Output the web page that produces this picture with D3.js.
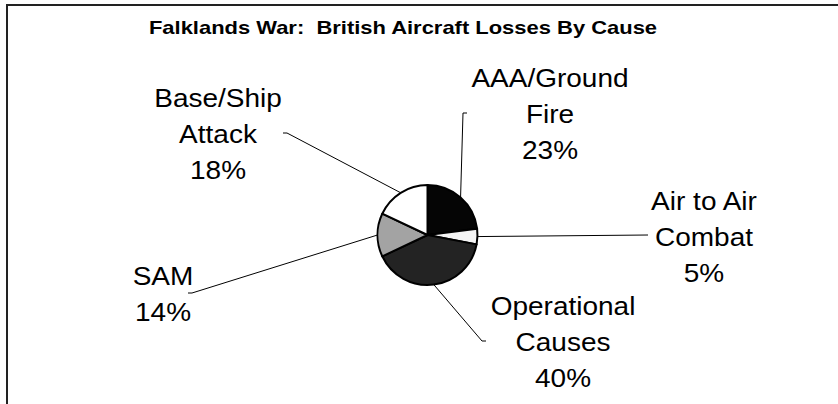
<!DOCTYPE html>
<html>
<head>
<meta charset="utf-8">
<script src="https://cdn.jsdelivr.net/npm/d3@7"></script>
<style>
  body { margin: 0; background: #fff; }
  text { font-family: "Liberation Sans", Arial, sans-serif; fill: #000; }
</style>
</head>
<body>
<svg id="chart" width="838" height="404"></svg>
<script>
// data
const causes = ["AAA/Ground Fire", "Air to Air Combat", "Operational Causes", "SAM", "Base/Ship Attack"];
const labelLines = [["AAA/Ground", "Fire"], ["Air to Air", "Combat"], ["Operational", "Causes"], ["SAM"], ["Base/Ship", "Attack"]];
const percents = [23, 5, 40, 14, 18];
const fills = ["#050505", "#f4f4f4", "#232323", "#a3a3a3", "#ffffff"];

// label placement: text centre x, first baseline y, leader line end + tick direction
const labelLayout = [
  { x: 550, y: 87, lx: 463, ly: 113, tick: 4 },
  { x: 704, y: 210, lx: 648, ly: 235, tick: 0 },
  { x: 563, y: 315, lx: 482, ly: 341, tick: 4 },
  { x: 163, y: 285, lx: 192, ly: 293, tick: -4 },
  { x: 218, y: 107, lx: 287, ly: 133, tick: -4 }
];

const svg = d3.select("#chart");
const W = 838, H = 404;
const cx = 427.5, cy = 235, R = 50;
const lineH = 36;
// the original text is a little wider than it is tall
const labelStretch = 1.12, titleStretch = 1.22;

// frame (top and left edges only)
svg.append("path")
  .attr("d", "M7," + H + " L7,5 L" + W + ",5")
  .attr("fill", "none")
  .attr("stroke", "#222")
  .attr("stroke-width", 2);

// title
svg.append("text")
  .attr("transform", "translate(403,34) scale(" + titleStretch + ",1)")
  .attr("text-anchor", "middle")
  .style("font-weight", "bold")
  .style("font-size", "18px")
  .style("white-space", "pre")
  .text("Falklands War:  British Aircraft Losses By Cause");

const pie = d3.pie().sort(null).value(d => d);
const arcs = pie(percents);
const arc = d3.arc().innerRadius(0).outerRadius(R);

const g = svg.append("g").attr("transform", "translate(" + cx + "," + cy + ")");

g.selectAll("path.slice")
  .data(arcs)
  .enter().append("path")
  .attr("class", "slice")
  .attr("d", arc)
  .attr("fill", (d, i) => fills[i])
  .attr("stroke", "#000")
  .attr("stroke-width", 2)
  .attr("stroke-linejoin", "round");

// leader lines
arcs.forEach((d, i) => {
  const mid = (d.startAngle + d.endAngle) / 2;
  const sx = cx + R * Math.sin(mid);
  const sy = cy - R * Math.cos(mid);
  const L = labelLayout[i];
  let p = "M" + sx + "," + sy + " L" + L.lx + "," + L.ly;
  if (L.tick !== 0) p += " L" + (L.lx + L.tick) + "," + L.ly;
  svg.append("path")
    .attr("d", p)
    .attr("fill", "none")
    .attr("stroke", "#000")
    .attr("stroke-width", 1);
});

// labels
arcs.forEach((d, i) => {
  const L = labelLayout[i];
  const lines = labelLines[i].concat([percents[i] + "%"]);
  const t = svg.append("text")
    .attr("transform", "translate(" + L.x + ",0) scale(" + labelStretch + ",1)")
    .attr("text-anchor", "middle")
    .style("font-size", "25px");
  lines.forEach((s, k) => {
    t.append("tspan")
      .attr("x", 0)
      .attr("y", L.y + k * lineH)
      .text(s);
  });
});
</script>
</body>
</html>
